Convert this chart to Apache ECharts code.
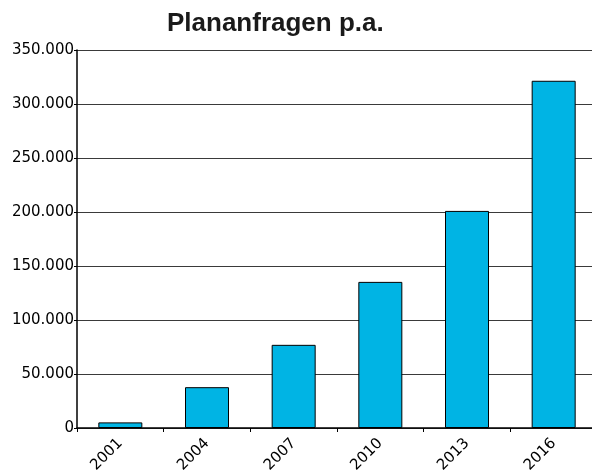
<!DOCTYPE html>
<html><head><meta charset="utf-8">
<script src="https://cdn.jsdelivr.net/npm/echarts@6/dist/echarts.min.js"></script>
<style>html,body{margin:0;padding:0;background:#fff}#c{width:592px;height:470px}</style>
</head><body><div id="c"></div>
<script>
const categories = ['2001','2004','2007','2010','2013','2016'];
const values = [5200, 37800, 77000, 135300, 201000, 321500];
const title = 'Plananfragen p.a.';

const chart = echarts.init(document.getElementById('c'), null, {renderer:'canvas'});
chart.setOption({
  animation:false,
  title:{text:title,left:162,top:6,textStyle:{fontFamily:'Liberation Sans',fontWeight:'bold',fontSize:26,color:'#1a1a1a'}},
  grid:{left:77,top:50,width:520,height:378,containLabel:false,outerBoundsMode:'none'},
  xAxis:{type:'category',data:categories,
    axisLine:{lineStyle:{color:'#000',width:1.5}},
    axisTick:{show:true,length:4,lineStyle:{color:'#000'}},
    axisLabel:{rotate:45,color:'#000',fontFamily:'DejaVu Sans',fontSize:15,margin:13}},
  yAxis:{type:'value',min:0,max:350000,interval:50000,
    axisLine:{show:true,lineStyle:{color:'#000',width:1.5}},
    axisTick:{show:true,length:3,lineStyle:{color:'#000'}},
    axisLabel:{color:'#000',fontFamily:'DejaVu Sans',fontSize:15,margin:3,
      formatter:v=>v===0?'0':v.toLocaleString('de-DE')},
    splitLine:{lineStyle:{color:'#3a3a3a',width:1}}},
  series:[{type:'bar',data:values,barWidth:44,
    itemStyle:{color:'#00B4E4',borderColor:'#000',borderWidth:1}}]
});
</script></body></html>
